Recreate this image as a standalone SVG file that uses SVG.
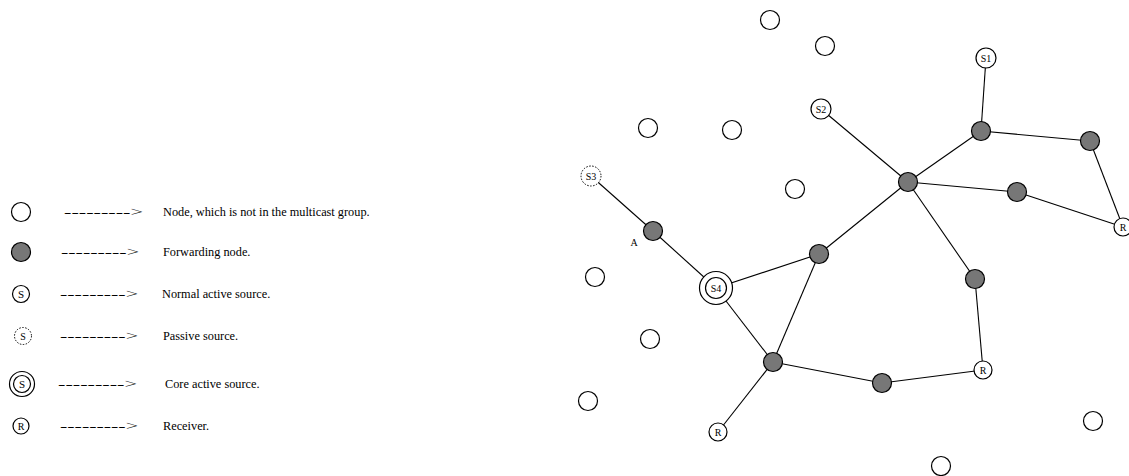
<svg xmlns="http://www.w3.org/2000/svg" width="1129" height="476" viewBox="0 0 1129 476">
  <style>
    .plain { fill: #fff; stroke: #000; stroke-width: 1.2; }
    .fwd { fill: #777; stroke: #000; stroke-width: 1.2; }
    .passive { fill: #fff; stroke: #000; stroke-width: 1; stroke-dasharray: 1.5 1.5; }
    .edge { stroke: #000; stroke-width: 1.1; fill: none; }
    .lbl { font-family: "Liberation Serif", "Times New Roman", serif; font-size: 11px; fill: #000; text-anchor: middle; }
    .sm { font-size: 10px; }
    .leg { font-family: "Liberation Serif", "Times New Roman", serif; font-size: 12.3px; fill: #000; }
  </style>

  <!-- legend -->
  <g id="legend">
    <g id="legend-plain">
      <circle class="plain" cx="21" cy="212" r="9.5"/>
      <text class="leg" x="64" y="216" textLength="79" lengthAdjust="spacingAndGlyphs">---------&gt;</text>
      <text class="leg" x="163" y="216">Node, which is not in the multicast group.</text>
    </g>
    <g id="legend-forwarding">
      <circle class="fwd" cx="21" cy="252" r="9.5"/>
      <text class="leg" x="61" y="256" textLength="78" lengthAdjust="spacingAndGlyphs">---------&gt;</text>
      <text class="leg" x="163" y="256">Forwarding node.</text>
    </g>
    <g id="legend-active">
      <circle class="plain" cx="21" cy="294" r="8.5"/>
      <text class="lbl" x="21" y="298">S</text>
      <text class="leg" x="60" y="298" textLength="78" lengthAdjust="spacingAndGlyphs">---------&gt;</text>
      <text class="leg" x="162" y="298">Normal active source.</text>
    </g>
    <g id="legend-passive">
      <circle class="passive" cx="23" cy="336" r="8.5"/>
      <text class="lbl sm" x="23" y="339.5">S</text>
      <text class="leg" x="60" y="340" textLength="78" lengthAdjust="spacingAndGlyphs">---------&gt;</text>
      <text class="leg" x="163" y="340">Passive source.</text>
    </g>
    <g id="legend-core">
      <circle class="plain" cx="22" cy="384" r="12.5"/>
      <circle class="plain" cx="22" cy="384" r="8.5"/>
      <text class="lbl" x="22" y="388">S</text>
      <text class="leg" x="58" y="388" textLength="79" lengthAdjust="spacingAndGlyphs">---------&gt;</text>
      <text class="leg" x="165" y="388">Core active source.</text>
    </g>
    <g id="legend-receiver">
      <circle class="plain" cx="21" cy="426" r="8"/>
      <text class="lbl sm" x="21" y="429.5">R</text>
      <text class="leg" x="60" y="430" textLength="78" lengthAdjust="spacingAndGlyphs">---------&gt;</text>
      <text class="leg" x="163" y="430">Receiver.</text>
    </g>
  </g>

  <!-- connectors -->
  <g id="edges">
    <line class="edge" x1="986" y1="58" x2="981" y2="131"/>
    <line class="edge" x1="981" y1="131" x2="1090" y2="141"/>
    <line class="edge" x1="1090" y1="141" x2="1123" y2="227"/>
    <line class="edge" x1="981" y1="131" x2="908" y2="182"/>
    <line class="edge" x1="821" y1="109" x2="908" y2="182"/>
    <line class="edge" x1="908" y1="182" x2="1017" y2="192"/>
    <line class="edge" x1="1017" y1="192" x2="1123" y2="227"/>
    <line class="edge" x1="908" y1="182" x2="819" y2="254"/>
    <line class="edge" x1="908" y1="182" x2="975" y2="279"/>
    <line class="edge" x1="975" y1="279" x2="983" y2="370"/>
    <line class="edge" x1="983" y1="370" x2="882" y2="383"/>
    <line class="edge" x1="882" y1="383" x2="773" y2="362"/>
    <line class="edge" x1="773" y1="362" x2="718" y2="432"/>
    <line class="edge" x1="773" y1="362" x2="819" y2="254"/>
    <line class="edge" x1="773" y1="362" x2="716" y2="288"/>
    <line class="edge" x1="716" y1="288" x2="819" y2="254"/>
    <line class="edge" x1="716" y1="288" x2="653" y2="231"/>
    <line class="edge" x1="653" y1="231" x2="591" y2="176"/>
  </g>

  <!-- idle nodes -->
  <g id="n1"><circle class="plain" cx="770" cy="20" r="9.5"/></g>
  <g id="n2"><circle class="plain" cx="825" cy="46" r="9.5"/></g>
  <g id="n3"><circle class="plain" cx="648" cy="128" r="9.5"/></g>
  <g id="n4"><circle class="plain" cx="732" cy="130" r="9.5"/></g>
  <g id="n5"><circle class="plain" cx="795" cy="189" r="9.5"/></g>
  <g id="n6"><circle class="plain" cx="595" cy="277" r="9.5"/></g>
  <g id="n7"><circle class="plain" cx="650" cy="339" r="9.5"/></g>
  <g id="n8"><circle class="plain" cx="588" cy="401" r="9.5"/></g>
  <g id="n9"><circle class="plain" cx="1093" cy="421" r="9.5"/></g>
  <g id="n10"><circle class="plain" cx="941" cy="466" r="9.5"/></g>

  <!-- forwarding nodes -->
  <g id="f1"><circle class="fwd" cx="981" cy="131" r="9.5"/></g>
  <g id="f2"><circle class="fwd" cx="1090" cy="141" r="9.5"/></g>
  <g id="f3"><circle class="fwd" cx="908" cy="182" r="9.5"/></g>
  <g id="f4"><circle class="fwd" cx="1017" cy="192" r="9.5"/></g>
  <g id="f5"><circle class="fwd" cx="819" cy="254" r="9.5"/></g>
  <g id="f6"><circle class="fwd" cx="975" cy="279" r="9.5"/></g>
  <g id="f7"><circle class="fwd" cx="882" cy="383" r="9.5"/></g>
  <g id="f8"><circle class="fwd" cx="773" cy="362" r="9.5"/></g>
  <g id="fA">
    <circle class="fwd" cx="653" cy="231" r="9.5"/>
    <text class="lbl sm" x="634" y="246">A</text>
  </g>

  <!-- sources -->
  <g id="s1">
    <circle class="plain" cx="986" cy="58" r="10"/>
    <text class="lbl sm" x="986" y="61.5">S1</text>
  </g>
  <g id="s2">
    <circle class="plain" cx="821" cy="109" r="10"/>
    <text class="lbl sm" x="821" y="112.5">S2</text>
  </g>
  <g id="s3">
    <circle class="passive" cx="591" cy="176" r="10"/>
    <text class="lbl sm" x="591" y="179.5">S3</text>
  </g>
  <g id="s4">
    <circle class="plain" cx="716" cy="288" r="16.5"/>
    <circle class="plain" cx="716" cy="288" r="10.5"/>
    <text class="lbl sm" x="716" y="291.5">S4</text>
  </g>

  <!-- receivers -->
  <g id="r1">
    <circle class="plain" cx="1123" cy="227" r="9"/>
    <text class="lbl sm" x="1123" y="230.5">R</text>
  </g>
  <g id="r2">
    <circle class="plain" cx="983" cy="370" r="9"/>
    <text class="lbl sm" x="983" y="373.5">R</text>
  </g>
  <g id="r3">
    <circle class="plain" cx="718" cy="432" r="9"/>
    <text class="lbl sm" x="718" y="435.5">R</text>
  </g>
</svg>
